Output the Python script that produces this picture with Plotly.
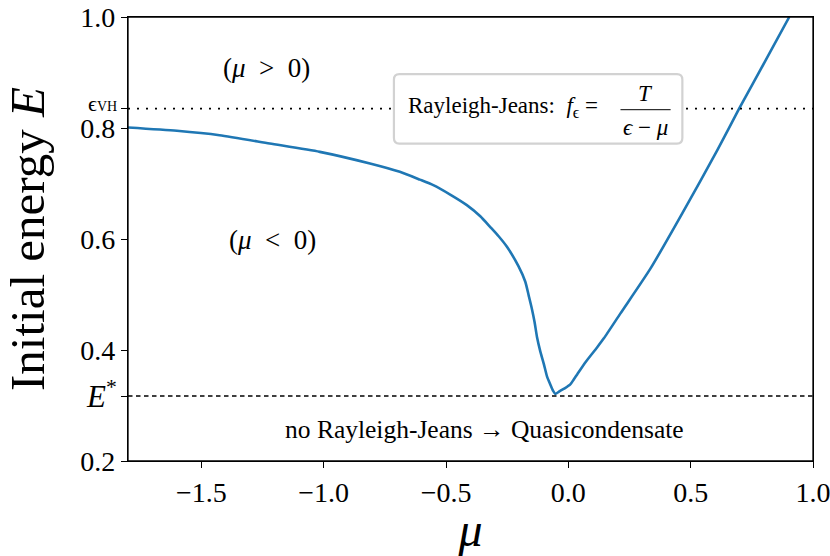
import plotly.graph_objects as go

# ---- data ----
mu = [-1.800, -1.600, -1.426, -1.221, -1.016, -0.811, -0.689, -0.607, -0.552, -0.483,
      -0.415, -0.360, -0.320, -0.285, -0.251, -0.204, -0.176, -0.162, -0.149, -0.138,
      -0.128, -0.115, -0.101, -0.087, -0.074, -0.063, -0.053, -0.035, -0.015, 0.008,
      0.022, 0.036, 0.070, 0.118, 0.145, 0.213, 0.336, 0.473, 0.609, 0.698,
      0.814, 0.903]
energy = [0.801, 0.795, 0.787, 0.772, 0.757, 0.736, 0.721, 0.707, 0.697, 0.680,
          0.661, 0.641, 0.622, 0.605, 0.586, 0.551, 0.523, 0.498, 0.474, 0.450,
          0.423, 0.398, 0.376, 0.352, 0.338, 0.327, 0.321, 0.326, 0.331, 0.338,
          0.347, 0.356, 0.378, 0.405, 0.421, 0.466, 0.547, 0.652, 0.760, 0.835,
          0.928, 1.000]

E_STAR = 0.317
EPS_VH = 0.835

x_ticks = [-1.5, -1.0, -0.5, 0.0, 0.5, 1.0]
y_ticks = [0.2, E_STAR, 0.4, 0.6, 0.8, EPS_VH, 1.0]
y_tick_labels = ["0.2", "", "0.4", "0.6", "0.8", "", "1.0"]
special_labels = ["<i>E</i><sup>*</sup>", "ϵ<span style='font-size:14px'>VH</span>"]

FONT = "Liberation Serif"
BLUE = "#1f77b4"

fig = go.Figure()
fig.add_trace(go.Scatter(x=mu, y=energy, mode="lines",
                         line=dict(color=BLUE, width=2.6, shape="spline", smoothing=0.6),
                         showlegend=False))

# reference lines
fig.add_shape(type="line", xref="paper", x0=0, x1=1, yref="y", y0=EPS_VH, y1=EPS_VH,
              line=dict(color="black", width=1.6, dash="2px,7px"))
fig.add_shape(type="line", xref="paper", x0=0, x1=1, yref="y", y0=E_STAR, y1=E_STAR,
              line=dict(color="black", width=1.4, dash="4.5px,3.5px"))

# rounded box for the Rayleigh-Jeans formula
bx0, bx1, by0, by1 = -0.713, 0.466, 0.772, 0.897
rx, ry = 0.022, 0.010
path = (f"M {bx0+rx},{by1} L {bx1-rx},{by1} Q {bx1},{by1} {bx1},{by1-ry} "
        f"L {bx1},{by0+ry} Q {bx1},{by0} {bx1-rx},{by0} L {bx0+rx},{by0} "
        f"Q {bx0},{by0} {bx0},{by0+ry} L {bx0},{by1-ry} Q {bx0},{by1} {bx0+rx},{by1} Z")
fig.add_shape(type="path", path=path, xref="x", yref="y",
              fillcolor="white", line=dict(color="#d2d2d2", width=2.2))
# fraction bar
fig.add_shape(type="line", xref="x", yref="y", x0=0.213, x1=0.418, y0=0.833, y1=0.833,
              line=dict(color="black", width=1))
# frame around the plotting area
fig.add_shape(type="rect", xref="paper", yref="paper", x0=0, x1=1, y0=0, y1=1,
              line=dict(color="black", width=1.3), fillcolor="rgba(0,0,0,0)")

ann = [
    dict(x=0.131, y=0.838, xanchor="right", yanchor="middle",
         text="Rayleigh-Jeans:\u00a0\u00a0<i>f</i><sub>ϵ</sub> =", font=dict(size=23)),
    dict(x=0.316, y=0.862, xanchor="center", yanchor="middle",
         text="<i>T</i>", font=dict(size=23)),
    dict(x=0.316, y=0.801, xanchor="center", yanchor="middle",
         text="<i>ϵ</i> − <i>μ</i>", font=dict(size=23)),
    dict(x=-1.232, y=0.908, xanchor="center", yanchor="middle",
         text="(<i>μ</i>\u00a0\u00a0>\u00a0\u00a00)", font=dict(size=27)),
    dict(x=-1.209, y=0.598, xanchor="center", yanchor="middle",
         text="(<i>μ</i>\u00a0\u00a0&lt;\u00a0\u00a00)", font=dict(size=27)),
    dict(x=-0.344, y=0.257, xanchor="center", yanchor="middle",
         text="no Rayleigh-Jeans → Quasicondensate", font=dict(size=25.5)),
]
for a in ann:
    a.update(xref="x", yref="y", showarrow=False)
    a["font"].update(family=FONT, color="black")
    fig.add_annotation(**a)

# special y tick labels (E*, eps_VH) as annotations next to their ticks
fig.add_annotation(x=0, xref="paper", y=E_STAR, yref="y", xanchor="right", yanchor="middle",
                   xshift=-9, yshift=2, text=special_labels[0], showarrow=False,
                   font=dict(family=FONT, size=31, color="black"))
fig.add_annotation(x=0, xref="paper", y=EPS_VH, yref="y", xanchor="right", yanchor="middle",
                   xshift=-9, yshift=5, text=special_labels[1], showarrow=False,
                   font=dict(family=FONT, size=22, color="black"))

axis_common = dict(showline=True, linecolor="black", linewidth=1.3, mirror=True,
                   ticks="outside", ticklen=6, tickwidth=1.2, tickcolor="black",
                   showgrid=False, zeroline=False, automargin=False,
                   ticklabeloverflow="allow",
                   tickfont=dict(family=FONT, size=28, color="black"))

fig.update_xaxes(range=[-1.8, 1.0], tickvals=x_ticks, tickformat=".1f",
                 title=dict(text="<i>μ</i>", font=dict(family=FONT, size=48, color="black"),
                            standoff=14),
                 **axis_common)
fig.update_yaxes(range=[0.2, 1.0], tickvals=y_ticks, ticktext=y_tick_labels,
                 title=dict(text="Initial energy <i>E</i>",
                            font=dict(family=FONT, size=49, color="black"), standoff=28),
                 **axis_common)

fig.update_layout(width=830, height=556, margin=dict(l=128, r=17, t=17, b=95),
                  plot_bgcolor="white", paper_bgcolor="white",
                  font=dict(family=FONT, color="black"))

fig.write_html("out.html", config={"displayModeBar": False},
               post_script="document.body.style.margin='0';document.body.style.overflow='hidden';")
